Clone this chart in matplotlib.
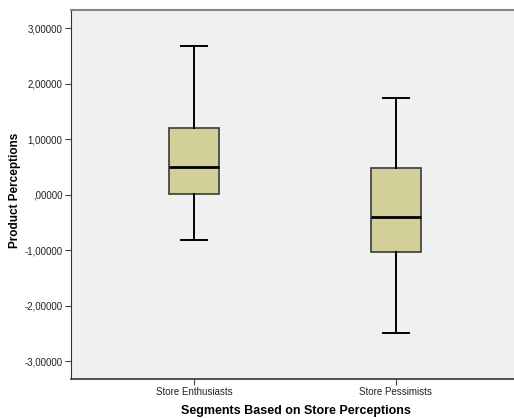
import matplotlib
matplotlib.use("Agg")
import matplotlib.pyplot as plt

plt.rcParams["font.family"] = ["Liberation Sans", "DejaVu Sans"]

# Five-number summaries per segment
categories = ["Store Enthusiasts", "Store Pessimists"]
whisker_low = [-0.82, -2.49]
q1 = [0.01, -1.04]
median = [0.50, -0.40]
q3 = [1.20, 0.49]
whisker_high = [2.68, 1.74]

y_ticks = [3, 2, 1, 0, -1, -2, -3]
y_tick_labels = ["3,00000", "2,00000", "1,00000", ",00000", "-1,00000", "-2,00000", "-3,00000"]

W, H = 514, 419
fig = plt.figure(figsize=(W / 100, H / 100), dpi=100)
ax = fig.add_axes([71 / W, 40 / H, 443 / W, 369 / H])
ax.set_facecolor("#F0F0F0")

stats = []
for i, name in enumerate(categories):
    stats.append(dict(label=name, whislo=whisker_low[i], q1=q1[i], med=median[i],
                      q3=q3[i], whishi=whisker_high[i], fliers=[]))

ax.bxp(stats, positions=[1, 2], widths=0.25, patch_artist=True,
       boxprops=dict(facecolor="#D3CF98", edgecolor="#3A3A3A", linewidth=1.2),
       medianprops=dict(color="black", linewidth=2),
       whiskerprops=dict(color="black", linewidth=1.4),
       capprops=dict(color="black", linewidth=1.4),
       capwidths=0.125, showfliers=False)

ax.set_xlim(0.39, 2.585)
ax.set_ylim(-3.32, 3.33)
ax.set_yticks(y_ticks)
ax.set_yticklabels(y_tick_labels, fontsize=7, color="#222222")
ax.set_xticks([1, 2])
ax.set_xticklabels(categories, fontsize=7, color="#222222")
ax.tick_params(axis="both", length=4, width=0.8, color="#444444", pad=2)

ax.spines["right"].set_visible(False)
ax.spines["top"].set_color("#888888")
ax.spines["top"].set_linewidth(1.5)
ax.spines["left"].set_color("#333333")
ax.spines["bottom"].set_color("#333333")
ax.spines["bottom"].set_linewidth(1.2)

fig.text(296 / W, 1 - 411 / H, "Segments Based on Store Perceptions",
         fontsize=9, fontweight="bold", ha="center", va="center")
fig.text(15 / W, 1 - 190 / H, "Product Perceptions",
         fontsize=8.5, fontweight="bold", ha="center", va="center", rotation=90)

fig.savefig("out.png", dpi=100, facecolor="white")
